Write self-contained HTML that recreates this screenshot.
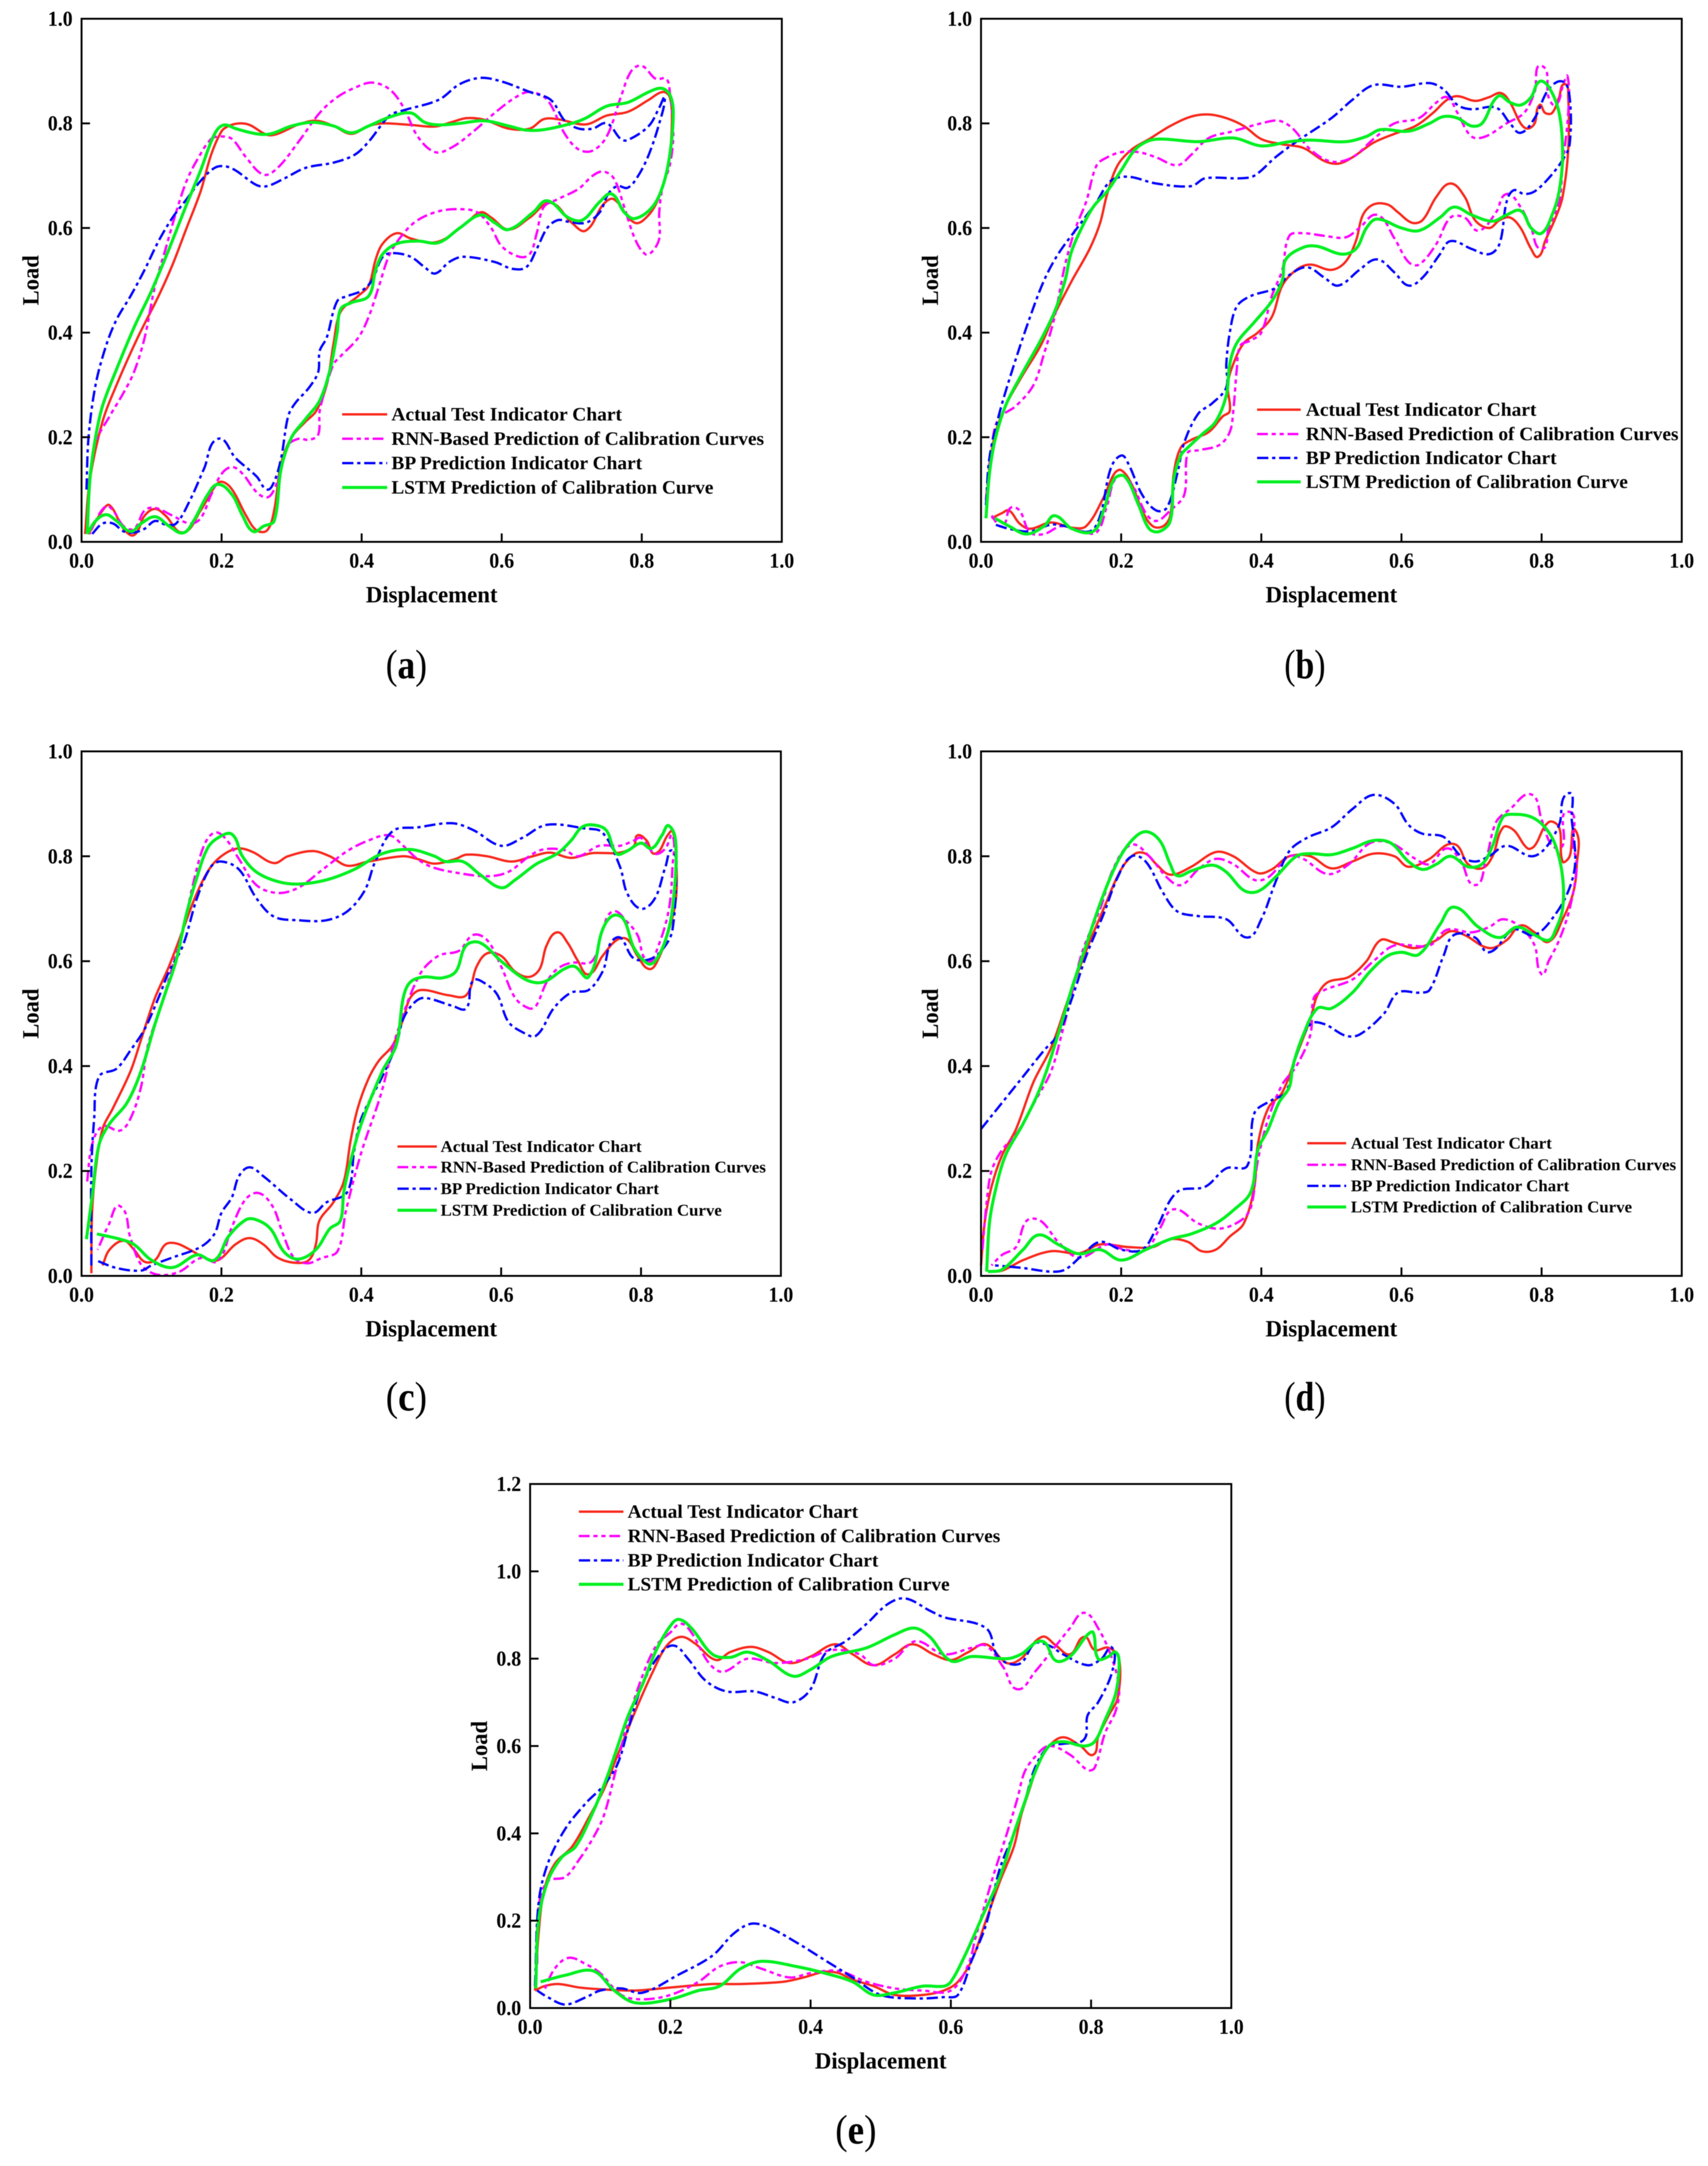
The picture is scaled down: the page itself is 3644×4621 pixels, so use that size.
<!DOCTYPE html>
<html lang="en">
<head>
<meta charset="utf-8">
<title>Indicator chart predictions</title>
<style>
html,body{margin:0;padding:0;background:#fff;width:3644px;height:4621px;overflow:hidden}
svg{display:block;filter:blur(0.7px)}
text{font-family:"Liberation Serif",serif;fill:#000}
</style>
</head>
<body>
<svg id="figure" xmlns="http://www.w3.org/2000/svg" width="3644" height="4621" viewBox="0 0 3644 4621"></svg>
<script>
const seriesNames = ["Actual Test Indicator Chart","RNN-Based Prediction of Calibration Curves","BP Prediction Indicator Chart","LSTM Prediction of Calibration Curve"];
const xTickValues = [0,0.2,0.4,0.6,0.8,1.0];
const xTickLabels = ["0.0","0.2","0.4","0.6","0.8","1.0"];
const yTickValues = [0,0.2,0.4,0.6,0.8,1.0];
const yTickLabels = ["0.0","0.2","0.4","0.6","0.8","1.0"];
const yTickValuesE = [0,0.2,0.4,0.6,0.8,1.0,1.2];
const yTickLabelsE = ["0.0","0.2","0.4","0.6","0.8","1.0","1.2"];

const aActual = [[0.005,0.015],[0.012,0.12],[0.03,0.23],[0.05,0.30],[0.08,0.39],[0.11,0.47],[0.13,0.53],[0.15,0.60],[0.17,0.67],[0.185,0.74],[0.20,0.785],[0.21,0.795],[0.225,0.80],[0.24,0.797],[0.265,0.778],[0.28,0.78],[0.31,0.798],[0.335,0.805],[0.36,0.795],[0.385,0.78],[0.41,0.795],[0.43,0.80],[0.47,0.797],[0.505,0.794],[0.53,0.803],[0.55,0.81],[0.575,0.807],[0.61,0.79],[0.64,0.79],[0.66,0.808],[0.68,0.808],[0.72,0.798],[0.75,0.815],[0.78,0.822],[0.81,0.845],[0.83,0.86],[0.84,0.85],[0.843,0.80],[0.838,0.72],[0.825,0.66],[0.81,0.625],[0.79,0.61],[0.76,0.655],[0.745,0.645],[0.72,0.595],[0.70,0.61],[0.67,0.648],[0.64,0.62],[0.61,0.597],[0.585,0.62],[0.57,0.63],[0.55,0.61],[0.52,0.58],[0.50,0.572],[0.47,0.58],[0.45,0.59],[0.43,0.57],[0.42,0.54],[0.41,0.49],[0.395,0.47],[0.37,0.44],[0.36,0.38],[0.35,0.30],[0.335,0.25],[0.32,0.23],[0.30,0.20],[0.285,0.15],[0.275,0.06],[0.265,0.022],[0.25,0.022],[0.235,0.05],[0.215,0.10],[0.2,0.115],[0.19,0.105],[0.17,0.06],[0.145,0.018],[0.12,0.05],[0.105,0.063],[0.09,0.05],[0.075,0.013],[0.06,0.025],[0.04,0.07],[0.03,0.06],[0.01,0.015]];
const aRnn = [[0.01,0.11],[0.02,0.19],[0.04,0.24],[0.06,0.285],[0.075,0.325],[0.09,0.39],[0.105,0.49],[0.12,0.56],[0.135,0.63],[0.15,0.69],[0.165,0.73],[0.185,0.77],[0.2,0.775],[0.215,0.77],[0.235,0.735],[0.26,0.702],[0.28,0.715],[0.31,0.765],[0.34,0.82],[0.365,0.85],[0.39,0.868],[0.415,0.878],[0.44,0.865],[0.46,0.83],[0.48,0.775],[0.505,0.745],[0.53,0.755],[0.56,0.785],[0.59,0.82],[0.62,0.85],[0.64,0.86],[0.665,0.845],[0.69,0.78],[0.71,0.75],[0.73,0.748],[0.75,0.775],[0.77,0.85],[0.785,0.9],[0.80,0.91],[0.82,0.885],[0.835,0.885],[0.84,0.86],[0.845,0.78],[0.84,0.72],[0.83,0.68],[0.825,0.63],[0.825,0.58],[0.815,0.555],[0.805,0.55],[0.79,0.58],[0.775,0.64],[0.76,0.695],[0.745,0.708],[0.73,0.70],[0.71,0.675],[0.68,0.655],[0.66,0.64],[0.65,0.59],[0.64,0.55],[0.625,0.545],[0.60,0.565],[0.585,0.60],[0.565,0.63],[0.54,0.636],[0.51,0.632],[0.48,0.615],[0.46,0.59],[0.44,0.55],[0.425,0.49],[0.41,0.43],[0.395,0.39],[0.37,0.355],[0.36,0.34],[0.35,0.30],[0.34,0.25],[0.338,0.205],[0.325,0.195],[0.31,0.197],[0.295,0.185],[0.285,0.14],[0.275,0.10],[0.265,0.085],[0.25,0.095],[0.23,0.13],[0.215,0.143],[0.20,0.13],[0.185,0.09],[0.17,0.045],[0.155,0.035],[0.13,0.05],[0.105,0.065],[0.09,0.06],[0.075,0.025],[0.06,0.03],[0.045,0.06],[0.035,0.068],[0.02,0.04],[0.012,0.015]];
const aBp = [[0.007,0.1],[0.01,0.2],[0.02,0.3],[0.035,0.375],[0.05,0.425],[0.07,0.47],[0.09,0.52],[0.11,0.575],[0.13,0.62],[0.15,0.655],[0.17,0.69],[0.19,0.715],[0.205,0.718],[0.22,0.71],[0.25,0.682],[0.265,0.68],[0.29,0.695],[0.32,0.715],[0.36,0.725],[0.39,0.74],[0.41,0.765],[0.44,0.815],[0.46,0.825],[0.51,0.845],[0.54,0.875],[0.57,0.887],[0.60,0.88],[0.64,0.86],[0.67,0.845],[0.69,0.805],[0.71,0.79],[0.73,0.79],[0.75,0.80],[0.77,0.77],[0.78,0.768],[0.81,0.795],[0.825,0.83],[0.833,0.85],[0.825,0.80],[0.81,0.74],[0.795,0.70],[0.78,0.677],[0.765,0.68],[0.752,0.665],[0.74,0.63],[0.72,0.61],[0.695,0.612],[0.68,0.615],[0.665,0.60],[0.65,0.56],[0.635,0.525],[0.615,0.522],[0.59,0.535],[0.545,0.545],[0.525,0.535],[0.505,0.513],[0.49,0.525],[0.47,0.545],[0.445,0.552],[0.43,0.545],[0.415,0.50],[0.40,0.48],[0.38,0.47],[0.365,0.46],[0.35,0.39],[0.34,0.365],[0.338,0.325],[0.325,0.295],[0.305,0.265],[0.295,0.24],[0.285,0.16],[0.275,0.115],[0.265,0.10],[0.25,0.125],[0.22,0.16],[0.195,0.197],[0.175,0.14],[0.155,0.08],[0.135,0.035],[0.12,0.033],[0.105,0.04],[0.09,0.025],[0.075,0.018],[0.06,0.02],[0.045,0.035],[0.03,0.035],[0.015,0.015]];
const aLstm = [[0.008,0.015],[0.012,0.12],[0.02,0.2],[0.03,0.26],[0.05,0.33],[0.075,0.41],[0.10,0.48],[0.125,0.56],[0.15,0.645],[0.17,0.71],[0.185,0.765],[0.195,0.79],[0.205,0.797],[0.22,0.79],[0.25,0.78],[0.27,0.78],[0.30,0.795],[0.33,0.802],[0.36,0.795],[0.385,0.782],[0.41,0.795],[0.44,0.812],[0.47,0.82],[0.49,0.802],[0.51,0.797],[0.54,0.80],[0.575,0.805],[0.61,0.795],[0.635,0.787],[0.66,0.788],[0.70,0.80],[0.72,0.81],[0.75,0.833],[0.78,0.84],[0.81,0.86],[0.828,0.867],[0.84,0.855],[0.845,0.82],[0.84,0.74],[0.83,0.68],[0.815,0.64],[0.79,0.618],[0.775,0.63],[0.757,0.665],[0.74,0.65],[0.715,0.615],[0.695,0.62],[0.665,0.652],[0.645,0.63],[0.61,0.597],[0.59,0.61],[0.57,0.625],[0.54,0.60],[0.51,0.572],[0.48,0.575],[0.45,0.57],[0.43,0.55],[0.42,0.52],[0.41,0.47],[0.385,0.457],[0.37,0.445],[0.365,0.40],[0.355,0.33],[0.34,0.27],[0.32,0.235],[0.30,0.20],[0.285,0.14],[0.275,0.04],[0.26,0.03],[0.245,0.02],[0.23,0.05],[0.215,0.09],[0.195,0.11],[0.18,0.09],[0.16,0.04],[0.145,0.017],[0.125,0.03],[0.105,0.048],[0.085,0.035],[0.07,0.02],[0.05,0.04],[0.035,0.052],[0.02,0.04],[0.008,0.015]];

const bActual = [[0.007,0.05],[0.012,0.14],[0.02,0.205],[0.035,0.26],[0.06,0.32],[0.085,0.375],[0.105,0.435],[0.13,0.50],[0.155,0.56],[0.17,0.61],[0.18,0.665],[0.195,0.72],[0.215,0.75],[0.24,0.77],[0.27,0.795],[0.30,0.813],[0.325,0.817],[0.35,0.81],[0.375,0.795],[0.40,0.77],[0.43,0.76],[0.46,0.753],[0.49,0.728],[0.51,0.723],[0.53,0.735],[0.56,0.763],[0.59,0.78],[0.62,0.795],[0.645,0.82],[0.665,0.845],[0.68,0.852],[0.705,0.843],[0.725,0.85],[0.742,0.858],[0.755,0.84],[0.77,0.80],[0.78,0.79],[0.79,0.80],[0.797,0.835],[0.805,0.82],[0.815,0.82],[0.825,0.85],[0.833,0.875],[0.838,0.85],[0.838,0.75],[0.83,0.66],[0.82,0.62],[0.805,0.575],[0.795,0.545],[0.785,0.56],[0.77,0.60],[0.755,0.62],[0.74,0.615],[0.725,0.60],[0.705,0.615],[0.69,0.66],[0.67,0.685],[0.65,0.66],[0.63,0.615],[0.615,0.61],[0.595,0.63],[0.58,0.645],[0.56,0.645],[0.545,0.625],[0.535,0.575],[0.52,0.535],[0.50,0.52],[0.47,0.53],[0.45,0.52],[0.43,0.49],[0.415,0.43],[0.395,0.40],[0.375,0.38],[0.36,0.34],[0.352,0.30],[0.355,0.25],[0.345,0.24],[0.325,0.21],[0.30,0.195],[0.285,0.18],[0.275,0.13],[0.27,0.05],[0.26,0.03],[0.245,0.03],[0.23,0.06],[0.215,0.11],[0.2,0.137],[0.19,0.13],[0.175,0.085],[0.15,0.03],[0.13,0.027],[0.10,0.037],[0.07,0.025],[0.055,0.035],[0.04,0.06],[0.03,0.055],[0.015,0.045]];
const bRnn = [[0.007,0.08],[0.015,0.18],[0.025,0.235],[0.05,0.26],[0.075,0.30],[0.09,0.36],[0.105,0.43],[0.12,0.53],[0.135,0.60],[0.15,0.65],[0.165,0.72],[0.18,0.735],[0.20,0.745],[0.225,0.745],[0.25,0.735],[0.28,0.72],[0.30,0.74],[0.325,0.772],[0.36,0.785],[0.40,0.80],[0.425,0.805],[0.445,0.79],[0.47,0.75],[0.50,0.727],[0.53,0.735],[0.56,0.77],[0.59,0.80],[0.625,0.81],[0.65,0.84],[0.665,0.85],[0.68,0.82],[0.70,0.775],[0.72,0.775],[0.75,0.80],[0.775,0.82],[0.79,0.86],[0.80,0.91],[0.81,0.85],[0.82,0.835],[0.83,0.87],[0.837,0.89],[0.838,0.82],[0.83,0.72],[0.825,0.65],[0.81,0.60],[0.80,0.56],[0.785,0.60],[0.77,0.64],[0.75,0.665],[0.735,0.63],[0.71,0.595],[0.69,0.62],[0.67,0.62],[0.65,0.57],[0.625,0.53],[0.61,0.535],[0.59,0.58],[0.565,0.625],[0.54,0.60],[0.52,0.582],[0.49,0.585],[0.46,0.59],[0.44,0.585],[0.43,0.52],[0.415,0.47],[0.40,0.40],[0.385,0.385],[0.37,0.375],[0.365,0.33],[0.36,0.25],[0.355,0.21],[0.34,0.185],[0.31,0.175],[0.295,0.17],[0.29,0.09],[0.27,0.06],[0.25,0.04],[0.235,0.055],[0.215,0.11],[0.195,0.125],[0.18,0.07],[0.165,0.018],[0.145,0.02],[0.115,0.03],[0.09,0.015],[0.07,0.018],[0.055,0.06],[0.042,0.065],[0.03,0.03],[0.015,0.05]];
const bBp = [[0.007,0.07],[0.012,0.16],[0.025,0.24],[0.045,0.33],[0.07,0.43],[0.09,0.50],[0.11,0.55],[0.14,0.605],[0.165,0.65],[0.185,0.69],[0.21,0.698],[0.25,0.685],[0.30,0.68],[0.32,0.695],[0.37,0.695],[0.39,0.70],[0.42,0.735],[0.45,0.765],[0.50,0.81],[0.53,0.845],[0.56,0.873],[0.60,0.87],[0.64,0.877],[0.66,0.865],[0.68,0.835],[0.70,0.827],[0.735,0.83],[0.755,0.80],[0.77,0.782],[0.79,0.81],[0.81,0.865],[0.83,0.88],[0.84,0.85],[0.84,0.76],[0.83,0.73],[0.81,0.695],[0.79,0.67],[0.775,0.665],[0.76,0.672],[0.75,0.65],[0.74,0.57],[0.725,0.55],[0.70,0.56],[0.67,0.575],[0.655,0.55],[0.63,0.505],[0.61,0.49],[0.59,0.515],[0.565,0.54],[0.54,0.52],[0.51,0.49],[0.49,0.505],[0.465,0.525],[0.44,0.51],[0.42,0.485],[0.385,0.47],[0.365,0.45],[0.355,0.40],[0.35,0.34],[0.35,0.295],[0.33,0.265],[0.31,0.245],[0.29,0.19],[0.28,0.13],[0.265,0.065],[0.25,0.06],[0.23,0.09],[0.21,0.15],[0.2,0.165],[0.185,0.14],[0.17,0.05],[0.155,0.02],[0.12,0.03],[0.10,0.033],[0.07,0.02],[0.04,0.025],[0.02,0.033]];
const bLstm = [[0.007,0.045],[0.012,0.13],[0.02,0.195],[0.035,0.26],[0.06,0.325],[0.085,0.385],[0.105,0.44],[0.12,0.50],[0.128,0.55],[0.14,0.59],[0.16,0.64],[0.18,0.67],[0.2,0.71],[0.22,0.75],[0.24,0.767],[0.26,0.77],[0.31,0.765],[0.36,0.772],[0.40,0.757],[0.44,0.765],[0.47,0.768],[0.52,0.765],[0.55,0.775],[0.57,0.788],[0.61,0.785],[0.64,0.80],[0.66,0.813],[0.68,0.81],[0.70,0.795],[0.715,0.80],[0.738,0.852],[0.755,0.84],[0.77,0.835],[0.785,0.85],[0.797,0.88],[0.81,0.87],[0.825,0.82],[0.83,0.74],[0.825,0.67],[0.815,0.625],[0.80,0.59],[0.785,0.60],[0.77,0.633],[0.75,0.625],[0.73,0.613],[0.70,0.625],[0.675,0.64],[0.655,0.62],[0.625,0.595],[0.60,0.60],[0.565,0.617],[0.55,0.60],[0.535,0.56],[0.515,0.55],[0.48,0.565],[0.46,0.563],[0.435,0.54],[0.43,0.50],[0.415,0.46],[0.39,0.42],[0.365,0.38],[0.355,0.34],[0.35,0.28],[0.335,0.23],[0.315,0.205],[0.295,0.18],[0.285,0.165],[0.275,0.12],[0.27,0.04],[0.255,0.02],[0.24,0.025],[0.225,0.07],[0.205,0.125],[0.19,0.12],[0.175,0.06],[0.16,0.02],[0.13,0.025],[0.105,0.05],[0.09,0.03],[0.065,0.015],[0.04,0.03],[0.02,0.045]];

const cActual = [[0.014,0.005],[0.015,0.12],[0.02,0.2],[0.03,0.28],[0.045,0.32],[0.07,0.39],[0.085,0.45],[0.105,0.53],[0.125,0.59],[0.145,0.66],[0.165,0.73],[0.185,0.78],[0.205,0.805],[0.225,0.815],[0.245,0.808],[0.275,0.787],[0.295,0.80],[0.33,0.81],[0.355,0.80],[0.38,0.782],[0.41,0.79],[0.46,0.80],[0.48,0.795],[0.505,0.786],[0.535,0.795],[0.55,0.803],[0.58,0.80],[0.615,0.79],[0.645,0.80],[0.67,0.807],[0.70,0.797],[0.73,0.806],[0.77,0.807],[0.79,0.82],[0.795,0.84],[0.808,0.83],[0.82,0.805],[0.838,0.84],[0.845,0.848],[0.85,0.80],[0.85,0.72],[0.84,0.66],[0.825,0.605],[0.812,0.585],[0.795,0.61],[0.78,0.642],[0.765,0.64],[0.745,0.61],[0.725,0.575],[0.71,0.60],[0.695,0.635],[0.68,0.655],[0.665,0.63],[0.655,0.585],[0.64,0.57],[0.62,0.58],[0.60,0.61],[0.58,0.615],[0.565,0.59],[0.55,0.535],[0.525,0.535],[0.485,0.545],[0.47,0.53],[0.46,0.49],[0.445,0.44],[0.425,0.41],[0.41,0.375],[0.395,0.32],[0.385,0.26],[0.375,0.18],[0.36,0.14],[0.34,0.105],[0.335,0.06],[0.325,0.03],[0.305,0.025],[0.28,0.035],[0.26,0.06],[0.24,0.072],[0.22,0.06],[0.195,0.03],[0.175,0.035],[0.155,0.05],[0.135,0.062],[0.12,0.06],[0.105,0.03],[0.09,0.027],[0.075,0.05],[0.06,0.067],[0.04,0.05],[0.03,0.02]];
const cRnn = [[0.008,0.18],[0.015,0.25],[0.03,0.285],[0.055,0.277],[0.07,0.30],[0.085,0.36],[0.095,0.44],[0.115,0.52],[0.13,0.59],[0.145,0.66],[0.16,0.75],[0.175,0.82],[0.19,0.845],[0.205,0.835],[0.225,0.795],[0.25,0.745],[0.28,0.73],[0.31,0.74],[0.345,0.775],[0.38,0.81],[0.41,0.83],[0.44,0.84],[0.46,0.82],[0.48,0.795],[0.50,0.78],[0.53,0.77],[0.58,0.762],[0.61,0.77],[0.64,0.80],[0.66,0.813],[0.69,0.812],[0.71,0.80],[0.74,0.82],[0.77,0.82],[0.79,0.83],[0.80,0.835],[0.82,0.805],[0.835,0.815],[0.845,0.84],[0.845,0.78],[0.84,0.70],[0.825,0.63],[0.81,0.60],[0.795,0.65],[0.78,0.675],[0.76,0.695],[0.745,0.66],[0.73,0.60],[0.70,0.597],[0.68,0.585],[0.665,0.56],[0.65,0.515],[0.64,0.51],[0.62,0.53],[0.60,0.59],[0.58,0.64],[0.56,0.65],[0.54,0.62],[0.51,0.61],[0.483,0.573],[0.45,0.458],[0.428,0.346],[0.40,0.235],[0.378,0.124],[0.366,0.047],[0.343,0.034],[0.323,0.024],[0.304,0.034],[0.288,0.08],[0.273,0.133],[0.253,0.158],[0.234,0.145],[0.214,0.09],[0.195,0.028],[0.17,0.034],[0.14,0.008],[0.11,0.002],[0.086,0.02],[0.07,0.072],[0.055,0.133],[0.039,0.098],[0.023,0.05]];
const cBp = [[0.014,0.02],[0.014,0.20],[0.018,0.30],[0.025,0.38],[0.05,0.395],[0.07,0.43],[0.09,0.47],[0.11,0.53],[0.125,0.58],[0.145,0.63],[0.165,0.72],[0.185,0.78],[0.2,0.79],[0.225,0.775],[0.25,0.72],[0.275,0.685],[0.31,0.678],[0.35,0.678],[0.38,0.695],[0.405,0.735],[0.42,0.79],[0.445,0.848],[0.48,0.855],[0.53,0.863],[0.56,0.85],[0.60,0.82],[0.63,0.835],[0.665,0.86],[0.72,0.853],[0.745,0.845],[0.77,0.78],[0.78,0.73],[0.80,0.70],[0.82,0.72],[0.835,0.78],[0.845,0.81],[0.85,0.76],[0.845,0.66],[0.835,0.63],[0.815,0.605],[0.79,0.605],[0.765,0.645],[0.745,0.58],[0.725,0.545],[0.70,0.54],[0.675,0.51],[0.65,0.458],[0.63,0.465],[0.61,0.485],[0.595,0.535],[0.58,0.555],[0.56,0.563],[0.55,0.51],[0.53,0.515],[0.49,0.53],[0.475,0.52],[0.46,0.49],[0.45,0.44],[0.43,0.38],[0.40,0.30],[0.39,0.24],[0.38,0.16],[0.35,0.14],[0.33,0.12],[0.30,0.145],[0.26,0.19],[0.24,0.207],[0.225,0.19],[0.215,0.15],[0.2,0.12],[0.19,0.08],[0.17,0.055],[0.13,0.035],[0.10,0.02],[0.085,0.01],[0.05,0.015],[0.02,0.03]];
const cLstm = [[0.007,0.07],[0.015,0.15],[0.025,0.25],[0.04,0.29],[0.065,0.33],[0.085,0.39],[0.105,0.48],[0.12,0.54],[0.135,0.60],[0.15,0.69],[0.165,0.76],[0.18,0.815],[0.195,0.835],[0.215,0.842],[0.23,0.80],[0.25,0.77],[0.28,0.752],[0.31,0.747],[0.35,0.755],[0.39,0.775],[0.43,0.805],[0.47,0.813],[0.505,0.80],[0.52,0.79],[0.545,0.79],[0.57,0.765],[0.60,0.74],[0.62,0.755],[0.65,0.785],[0.68,0.805],[0.70,0.83],[0.715,0.855],[0.73,0.86],[0.75,0.85],[0.765,0.805],[0.78,0.81],[0.80,0.825],[0.815,0.815],[0.83,0.84],[0.84,0.858],[0.85,0.82],[0.845,0.70],[0.835,0.64],[0.82,0.60],[0.81,0.595],[0.79,0.625],[0.775,0.68],[0.76,0.687],[0.745,0.66],[0.725,0.57],[0.705,0.59],[0.69,0.585],[0.66,0.56],[0.635,0.565],[0.60,0.60],[0.57,0.635],[0.55,0.63],[0.535,0.58],[0.515,0.568],[0.49,0.57],[0.47,0.56],[0.46,0.53],[0.45,0.44],[0.43,0.39],[0.40,0.29],[0.385,0.22],[0.375,0.16],[0.37,0.105],[0.355,0.09],[0.335,0.05],[0.31,0.032],[0.29,0.045],[0.27,0.09],[0.25,0.107],[0.235,0.107],[0.21,0.075],[0.19,0.03],[0.165,0.04],[0.13,0.016],[0.1,0.03],[0.075,0.06],[0.055,0.07],[0.022,0.08]];

const dActual = [[0.0,0.02],[0.005,0.10],[0.015,0.17],[0.03,0.23],[0.05,0.28],[0.075,0.37],[0.1,0.435],[0.125,0.53],[0.15,0.62],[0.175,0.70],[0.2,0.775],[0.22,0.805],[0.235,0.805],[0.25,0.785],[0.27,0.765],[0.30,0.78],[0.335,0.808],[0.36,0.80],[0.395,0.768],[0.415,0.775],[0.44,0.80],[0.47,0.80],[0.50,0.777],[0.53,0.79],[0.56,0.805],[0.59,0.80],[0.61,0.78],[0.64,0.795],[0.665,0.822],[0.68,0.82],[0.695,0.785],[0.715,0.777],[0.73,0.80],[0.745,0.855],[0.76,0.85],[0.78,0.815],[0.79,0.82],[0.81,0.865],[0.825,0.855],[0.83,0.79],[0.84,0.80],[0.848,0.85],[0.85,0.78],[0.845,0.73],[0.83,0.68],[0.81,0.637],[0.79,0.655],[0.77,0.668],[0.75,0.64],[0.725,0.625],[0.69,0.65],[0.67,0.657],[0.65,0.64],[0.62,0.625],[0.59,0.635],[0.57,0.64],[0.55,0.60],[0.525,0.57],[0.495,0.56],[0.48,0.535],[0.47,0.49],[0.45,0.42],[0.43,0.35],[0.41,0.32],[0.395,0.25],[0.39,0.17],[0.375,0.10],[0.355,0.075],[0.335,0.05],[0.315,0.047],[0.295,0.065],[0.27,0.07],[0.245,0.055],[0.21,0.055],[0.17,0.06],[0.14,0.043],[0.1,0.047],[0.06,0.03],[0.03,0.01],[0.01,0.008]];
const dRnn = [[0.002,0.05],[0.008,0.14],[0.015,0.20],[0.03,0.24],[0.05,0.27],[0.08,0.34],[0.10,0.39],[0.115,0.46],[0.13,0.54],[0.145,0.62],[0.17,0.70],[0.19,0.78],[0.215,0.822],[0.24,0.80],[0.265,0.76],[0.285,0.745],[0.31,0.775],[0.335,0.795],[0.36,0.785],[0.39,0.755],[0.41,0.76],[0.44,0.80],[0.46,0.795],[0.495,0.766],[0.525,0.785],[0.555,0.825],[0.585,0.825],[0.62,0.795],[0.64,0.785],[0.665,0.815],[0.685,0.79],[0.705,0.745],[0.72,0.79],[0.735,0.865],[0.755,0.89],[0.785,0.918],[0.80,0.87],[0.815,0.82],[0.83,0.82],[0.838,0.885],[0.845,0.82],[0.85,0.78],[0.84,0.70],[0.825,0.64],[0.81,0.60],[0.80,0.575],[0.79,0.63],[0.77,0.665],[0.745,0.68],[0.725,0.665],[0.70,0.655],[0.665,0.66],[0.64,0.63],[0.59,0.63],[0.56,0.60],[0.53,0.565],[0.49,0.545],[0.475,0.53],[0.47,0.46],[0.45,0.40],[0.43,0.365],[0.41,0.30],[0.395,0.22],[0.385,0.13],[0.37,0.105],[0.34,0.09],[0.31,0.10],[0.275,0.127],[0.255,0.09],[0.235,0.05],[0.205,0.05],[0.18,0.06],[0.14,0.035],[0.11,0.065],[0.085,0.105],[0.065,0.105],[0.05,0.055],[0.03,0.04],[0.015,0.02]];
const dBp = [[0,0.28],[0.03,0.33],[0.06,0.38],[0.09,0.43],[0.11,0.46],[0.13,0.53],[0.15,0.61],[0.175,0.69],[0.195,0.76],[0.215,0.80],[0.235,0.79],[0.26,0.73],[0.28,0.695],[0.31,0.686],[0.35,0.68],[0.38,0.645],[0.40,0.68],[0.42,0.75],[0.44,0.81],[0.465,0.835],[0.50,0.855],[0.53,0.89],[0.56,0.917],[0.59,0.90],[0.61,0.86],[0.63,0.843],[0.66,0.837],[0.685,0.80],[0.705,0.79],[0.725,0.80],[0.75,0.82],[0.785,0.80],[0.805,0.815],[0.825,0.86],[0.838,0.92],[0.843,0.87],[0.848,0.79],[0.84,0.74],[0.82,0.69],[0.79,0.65],[0.76,0.66],[0.725,0.617],[0.705,0.645],[0.675,0.65],[0.66,0.61],[0.64,0.545],[0.625,0.54],[0.595,0.54],[0.575,0.50],[0.54,0.46],[0.52,0.458],[0.49,0.48],[0.47,0.48],[0.45,0.42],[0.435,0.35],[0.415,0.335],[0.39,0.31],[0.38,0.21],[0.35,0.205],[0.32,0.17],[0.28,0.16],[0.25,0.09],[0.23,0.05],[0.2,0.05],[0.17,0.065],[0.145,0.04],[0.12,0.012],[0.10,0.008],[0.06,0.015],[0.02,0.02]];
const dLstm = [[0.008,0.008],[0.012,0.10],[0.02,0.16],[0.035,0.23],[0.06,0.29],[0.085,0.36],[0.11,0.46],[0.13,0.55],[0.15,0.63],[0.17,0.71],[0.195,0.79],[0.215,0.83],[0.235,0.847],[0.255,0.83],[0.27,0.785],[0.28,0.763],[0.30,0.772],[0.33,0.783],[0.35,0.77],[0.375,0.735],[0.395,0.733],[0.42,0.76],[0.45,0.80],[0.47,0.805],[0.5,0.803],[0.53,0.815],[0.56,0.83],[0.585,0.825],[0.61,0.79],[0.63,0.775],[0.65,0.785],[0.67,0.80],[0.695,0.78],[0.715,0.785],[0.73,0.82],[0.745,0.875],[0.76,0.88],[0.785,0.875],[0.805,0.855],[0.82,0.82],[0.83,0.76],[0.83,0.70],[0.82,0.66],[0.81,0.64],[0.79,0.65],[0.765,0.665],[0.74,0.645],[0.71,0.665],[0.675,0.703],[0.655,0.67],[0.625,0.613],[0.6,0.617],[0.58,0.61],[0.555,0.58],[0.53,0.54],[0.5,0.51],[0.48,0.51],[0.46,0.46],[0.445,0.40],[0.44,0.36],[0.425,0.33],[0.41,0.28],[0.395,0.24],[0.385,0.16],[0.36,0.125],[0.335,0.10],[0.30,0.08],[0.27,0.07],[0.235,0.05],[0.2,0.03],[0.17,0.05],[0.14,0.042],[0.11,0.06],[0.082,0.078],[0.06,0.05],[0.03,0.012],[0.01,0.008]];

const eActual = [[0.007,0.04],[0.012,0.17],[0.02,0.27],[0.035,0.33],[0.06,0.37],[0.085,0.44],[0.105,0.50],[0.125,0.58],[0.15,0.68],[0.175,0.77],[0.195,0.83],[0.215,0.85],[0.235,0.835],[0.265,0.797],[0.285,0.815],[0.315,0.827],[0.34,0.815],[0.37,0.79],[0.40,0.805],[0.435,0.833],[0.46,0.81],[0.49,0.785],[0.52,0.81],[0.545,0.833],[0.575,0.81],[0.6,0.797],[0.625,0.815],[0.65,0.833],[0.68,0.79],[0.70,0.80],[0.73,0.85],[0.75,0.83],[0.77,0.81],[0.79,0.85],[0.805,0.82],[0.825,0.825],[0.84,0.80],[0.838,0.71],[0.825,0.67],[0.81,0.62],[0.803,0.58],[0.785,0.60],[0.76,0.62],[0.74,0.60],[0.725,0.56],[0.71,0.49],[0.70,0.44],[0.69,0.37],[0.67,0.29],[0.65,0.20],[0.63,0.11],[0.61,0.06],[0.59,0.04],[0.56,0.03],[0.52,0.03],[0.49,0.05],[0.46,0.065],[0.44,0.08],[0.42,0.083],[0.39,0.07],[0.36,0.06],[0.30,0.055],[0.26,0.055],[0.2,0.047],[0.15,0.04],[0.1,0.043],[0.07,0.047],[0.04,0.055],[0.02,0.05],[0.007,0.04]];
const eRnn = [[0.01,0.10],[0.012,0.23],[0.025,0.29],[0.05,0.30],[0.07,0.34],[0.09,0.39],[0.105,0.44],[0.12,0.53],[0.14,0.66],[0.16,0.76],[0.18,0.83],[0.2,0.86],[0.215,0.88],[0.23,0.86],[0.255,0.79],[0.275,0.77],[0.31,0.80],[0.35,0.79],[0.395,0.80],[0.43,0.82],[0.47,0.81],[0.49,0.785],[0.52,0.80],[0.55,0.84],[0.59,0.81],[0.63,0.825],[0.65,0.83],[0.675,0.78],[0.695,0.73],[0.72,0.77],[0.75,0.83],[0.77,0.87],[0.79,0.905],[0.81,0.87],[0.83,0.80],[0.84,0.73],[0.835,0.68],[0.82,0.63],[0.805,0.55],[0.795,0.545],[0.77,0.58],[0.74,0.60],[0.72,0.575],[0.705,0.54],[0.695,0.48],[0.68,0.40],[0.66,0.30],[0.635,0.16],[0.625,0.10],[0.6,0.04],[0.56,0.04],[0.52,0.045],[0.48,0.06],[0.44,0.085],[0.40,0.08],[0.37,0.07],[0.33,0.09],[0.3,0.105],[0.27,0.095],[0.24,0.06],[0.2,0.03],[0.16,0.02],[0.13,0.03],[0.10,0.08],[0.08,0.10],[0.055,0.115],[0.035,0.09],[0.02,0.04]];
const eBp = [[0.007,0.05],[0.012,0.24],[0.025,0.33],[0.05,0.41],[0.08,0.47],[0.105,0.51],[0.125,0.56],[0.14,0.64],[0.16,0.74],[0.185,0.81],[0.205,0.83],[0.225,0.80],[0.25,0.75],[0.28,0.725],[0.32,0.725],[0.35,0.71],[0.375,0.70],[0.4,0.73],[0.42,0.81],[0.45,0.84],[0.48,0.88],[0.51,0.925],[0.535,0.938],[0.57,0.91],[0.59,0.895],[0.65,0.87],[0.665,0.81],[0.68,0.79],[0.70,0.79],[0.72,0.835],[0.74,0.83],[0.76,0.81],[0.795,0.785],[0.815,0.80],[0.83,0.825],[0.83,0.77],[0.81,0.70],[0.795,0.67],[0.79,0.615],[0.76,0.605],[0.74,0.60],[0.72,0.55],[0.705,0.47],[0.69,0.40],[0.67,0.32],[0.65,0.19],[0.63,0.11],[0.61,0.03],[0.59,0.025],[0.55,0.022],[0.5,0.03],[0.46,0.07],[0.42,0.11],[0.38,0.15],[0.34,0.185],[0.315,0.193],[0.29,0.17],[0.26,0.12],[0.21,0.075],[0.16,0.035],[0.13,0.045],[0.1,0.04],[0.08,0.025],[0.05,0.008],[0.025,0.025],[0.01,0.04]];
const eLstm = [[0.008,0.045],[0.012,0.20],[0.025,0.29],[0.045,0.345],[0.065,0.37],[0.09,0.45],[0.11,0.53],[0.125,0.60],[0.14,0.67],[0.16,0.74],[0.18,0.82],[0.2,0.875],[0.212,0.89],[0.23,0.87],[0.26,0.81],[0.285,0.803],[0.31,0.815],[0.34,0.795],[0.375,0.76],[0.4,0.775],[0.43,0.805],[0.48,0.825],[0.52,0.855],[0.548,0.87],[0.57,0.85],[0.6,0.795],[0.63,0.805],[0.68,0.80],[0.70,0.81],[0.73,0.84],[0.75,0.795],[0.77,0.805],[0.795,0.855],[0.803,0.86],[0.81,0.80],[0.825,0.805],[0.835,0.815],[0.84,0.79],[0.835,0.72],[0.82,0.66],[0.805,0.61],[0.79,0.60],[0.76,0.61],[0.74,0.60],[0.72,0.54],[0.705,0.47],[0.69,0.40],[0.67,0.30],[0.645,0.21],[0.62,0.12],[0.6,0.06],[0.59,0.05],[0.56,0.05],[0.52,0.035],[0.49,0.03],[0.46,0.06],[0.42,0.08],[0.38,0.095],[0.33,0.107],[0.3,0.09],[0.27,0.05],[0.24,0.04],[0.2,0.02],[0.15,0.012],[0.12,0.04],[0.09,0.085],[0.05,0.075],[0.015,0.06]];

const SVGNS = "http://www.w3.org/2000/svg";
const figure = document.getElementById("figure");

function make(tag, attrs, parent) {
  const el = document.createElementNS(SVGNS, tag);
  for (const k in attrs) el.setAttribute(k, attrs[k]);
  parent.appendChild(el);
  return el;
}

function smoothPath(pts) {
  let d = "M" + pts[0][0].toFixed(1) + " " + pts[0][1].toFixed(1);
  const tangent = (i) => {
    const a = pts[Math.max(i - 1, 0)], b = pts[Math.min(i + 1, pts.length - 1)];
    const dx = b[0] - a[0], dy = b[1] - a[1], l = Math.hypot(dx, dy) || 1;
    return [dx / l, dy / l];
  };
  for (let i = 0; i < pts.length - 1; i++) {
    const p = pts[i], q = pts[i + 1];
    const len = Math.hypot(q[0] - p[0], q[1] - p[1]) / 3;
    const t0 = tangent(i), t1 = tangent(i + 1);
    d += "C" + (p[0] + t0[0] * len).toFixed(1) + " " + (p[1] + t0[1] * len).toFixed(1) + " " +
         (q[0] - t1[0] * len).toFixed(1) + " " + (q[1] - t1[1] * len).toFixed(1) + " " +
         q[0].toFixed(1) + " " + q[1].toFixed(1);
  }
  return d;
}

const seriesStyles = [
  {key: "actual", color: "#f8281c", width: 5, dash: ""},
  {key: "rnn", color: "#ff00ff", width: 5, dash: "23 8 9 8 9 8"},
  {key: "bp", color: "#0000ff", width: 5, dash: "24 8 7 8"},
  {key: "lstm", color: "#00f020", width: 6.5, dash: ""}
];

const legendWidthsWide = [492, 795, 535, 687];
const legendWidthsSmall = [429, 694, 466, 600];

const panels = [
  {id: "a", series: [aActual, aRnn, aBp, aLstm], left: 174, right: 1668, top: 40, bottom: 1156, yMax: 1, yVals: yTickValues, yLabs: yTickLabels,
   legend: {lineL: 730, lineR: 826, textX: 835, ys: [884, 936, 988, 1040], size: 40, widths: legendWidthsWide}, cap: {x: 867, y: 1447}},
  {id: "b", series: [bActual, bRnn, bBp, bLstm], left: 2093, right: 3588, top: 40, bottom: 1156, yMax: 1, yVals: yTickValues, yLabs: yTickLabels,
   legend: {lineL: 2682, lineR: 2775, textX: 2786, ys: [874, 926, 977, 1028], size: 40, widths: legendWidthsWide}, cap: {x: 2784, y: 1447}},
  {id: "c", series: [cActual, cRnn, cBp, cLstm], left: 174, right: 1666, top: 1603, bottom: 2722, yMax: 1, yVals: yTickValues, yLabs: yTickLabels,
   legend: {lineL: 848, lineR: 932, textX: 940, ys: [2446, 2490, 2536, 2582], size: 35, widths: legendWidthsSmall}, cap: {x: 867, y: 3009}},
  {id: "d", series: [dActual, dRnn, dBp, dLstm], left: 2093, right: 3588, top: 1603, bottom: 2722, yMax: 1, yVals: yTickValues, yLabs: yTickLabels,
   legend: {lineL: 2789, lineR: 2872, textX: 2882, ys: [2439, 2485, 2530, 2575], size: 35, widths: legendWidthsSmall}, cap: {x: 2784, y: 3009}},
  {id: "e", series: [eActual, eRnn, eBp, eLstm], left: 1131, right: 2627, top: 3166, bottom: 4284, yMax: 1.2, yVals: yTickValuesE, yLabs: yTickLabelsE,
   legend: {lineL: 1235, lineR: 1330, textX: 1339, ys: [3225, 3277, 3329, 3380], size: 40, widths: legendWidthsWide}, cap: {x: 1826, y: 4573}}
];

panels.forEach((p) => {
  const xScale = (v) => p.left + v * (p.right - p.left);
  const yScale = (v) => p.bottom - (v / p.yMax) * (p.bottom - p.top);

  const g = make("g", {}, figure);
  
  

  const marks = make("g", {fill: "none", "stroke-linejoin": "round"}, g);
  
  
  p.series.forEach((data, i) => {
    const st = seriesStyles[i];
    const pts = data.map((d) => [xScale(d[0]), yScale(d[1])]);
    const path = make("path", {d: smoothPath(pts), stroke: st.color, "stroke-width": st.width}, marks);
    if (st.dash) path.setAttribute("stroke-dasharray", st.dash);
    
    
  });

  const frame = make("rect", {x: p.left, y: p.top, width: p.right - p.left, height: p.bottom - p.top, fill: "none", stroke: "#000", "stroke-width": 4}, g);
  
  

  xTickValues.forEach((v, i) => {
    const x = xScale(v);
    const tick = make("line", {x1: x, x2: x, y1: p.bottom, y2: p.bottom - 18, stroke: "#000", "stroke-width": 4}, g);
    
    
    const label = make("text", {x: x, y: p.bottom + 55, "text-anchor": "middle", "font-size": 46, "font-weight": "bold", textLength: 53, lengthAdjust: "spacingAndGlyphs"}, g);
    label.textContent = xTickLabels[i];
    
    
  });

  p.yVals.forEach((v, i) => {
    const y = yScale(v);
    const tick = make("line", {x1: p.left, x2: p.left + 18, y1: y, y2: y, stroke: "#000", "stroke-width": 4}, g);
    
    
    const label = make("text", {x: p.left - 72, y: y + 15, "font-size": 46, "font-weight": "bold", textLength: 53, lengthAdjust: "spacingAndGlyphs"}, g);
    label.textContent = p.yLabs[i];
    
    
  });

  const cx = (p.left + p.right) / 2, cy = (p.top + p.bottom) / 2;
  const xTitle = make("text", {x: cx, y: p.bottom + 129, "text-anchor": "middle", "font-size": 50, "font-weight": "bold", textLength: 281, lengthAdjust: "spacingAndGlyphs"}, g);
  xTitle.textContent = "Displacement";
  
  

  const yx = p.left - 92;
  const yTitle = make("text", {x: yx, y: cy, "text-anchor": "middle", "font-size": 50, "font-weight": "bold", textLength: 107, lengthAdjust: "spacingAndGlyphs", transform: "rotate(-90 " + yx + " " + cy + ")"}, g);
  yTitle.textContent = "Load";
  
  

  seriesNames.forEach((name, i) => {
    const st = seriesStyles[i];
    const y = p.legend.ys[i];
    const swatch = make("line", {x1: p.legend.lineL, x2: p.legend.lineR, y1: y, y2: y, stroke: st.color, "stroke-width": st.width}, g);
    if (st.dash) swatch.setAttribute("stroke-dasharray", st.dash);
    
    
    const label = make("text", {x: p.legend.textX, y: y + p.legend.size * 0.33, "font-size": p.legend.size, "font-weight": "bold", textLength: p.legend.widths[i], lengthAdjust: "spacingAndGlyphs"}, g);
    label.textContent = name;
    
    
  });

  const cap = make("text", {x: p.cap.x, y: p.cap.y, "text-anchor": "middle", "font-size": 88, textLength: 88, lengthAdjust: "spacingAndGlyphs"}, g);
  
  
  cap.appendChild(document.createTextNode("("));
  const letter = make("tspan", {"font-weight": "bold"}, cap);
  letter.textContent = p.id;
  cap.appendChild(document.createTextNode(")"));
});
</script>
</body>
</html>
